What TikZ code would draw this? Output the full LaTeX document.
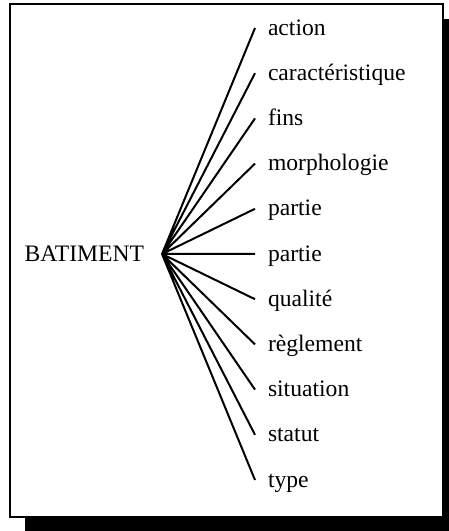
\documentclass[tikz,border=0pt]{standalone}
\usepackage{fontspec}
\setmainfont{Liberation Serif}
\usetikzlibrary{positioning}

\tikzset{
  root/.style={anchor=east,inner xsep=17pt,inner ysep=0pt,
    text height=0.6em,text depth=0pt},
  leaf/.style={anchor=west,inner xsep=12pt,inner ysep=0pt,
    text height=0.6em,text depth=0pt},
  under/.style={below=of #1.west,leaf}
}

\begin{document}
\begin{tikzpicture}
[x=1pt,y=1pt,node distance=45.2pt,line width=2pt]
\fontsize{23.6}{28}\selectfont
\useasboundingbox (0,0) rectangle (449,531);
% frame with its shadow
\fill (25,0) rectangle (449,512);
\draw[fill=white,line width=1.6pt] (10,14) rectangle (443,527);

\coordinate (hub) at (162,277);
\node[root] (bat) at (hub) {BATIMENT};

\node[leaf] (action) at (255,503) {action};
\node[under=action] (carac) {caractéristique};
\node[under=carac] (fins) {fins};
\node[under=fins] (morpho) {morphologie};
\node[under=morpho] (partie1) {partie};
\node[under=partie1] (partie2) {partie};
\node[under=partie2] (qualite) {qualité};
\node[under=qualite] (reglement) {règlement};
\node[under=reglement] (situation) {situation};
\node[under=situation] (statut) {statut};
\node[under=statut] (type) {type};

\draw (hub) -- (action.west)
      (hub) -- (carac.west)
      (hub) -- (fins.west)
      (hub) -- (morpho.west)
      (hub) -- (partie1.west)
      (hub) -- (partie2.west)
      (hub) -- (qualite.west)
      (hub) -- (reglement.west)
      (hub) -- (situation.west)
      (hub) -- (statut.west)
      (hub) -- (type.west);
\end{tikzpicture}
\end{document}
